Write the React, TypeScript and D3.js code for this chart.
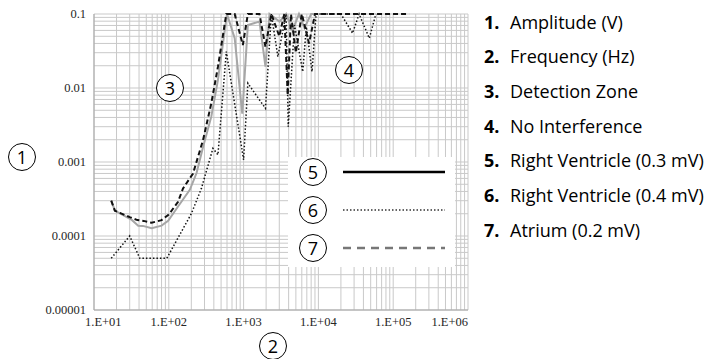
import React, { useEffect, useRef } from 'react';
import * as d3 from 'd3';

// Right Ventricle (0.3 mV) - grey solid in the plot
const rv03Freq = [17, 19, 32, 39, 45, 59, 80, 98, 133, 191, 235, 287, 370, 454, 600, 760, 960, 1140, 1630, 1960, 2220, 3020, 3700, 4500, 5500, 6500, 8000, 10000];
const rv03Amp = [3e-4, 2.2e-4, 1.65e-4, 1.38e-4, 1.37e-4, 1.27e-4, 1.38e-4, 1.6e-4, 2.5e-4, 4.2e-4, 7.1e-4, 1.6e-3, 4.1e-3, 0.0129, 0.1, 0.047, 0.0045, 0.071, 0.079, 0.0194, 0.1, 0.079, 0.1, 0.06, 0.1, 0.065, 0.1, 0.1];

// Right Ventricle (0.4 mV) - dotted
const rv04Freq = [17, 30, 41, 94, 200, 273, 389, 454, 587, 1000, 1140, 1960, 2350, 2870, 3700, 3950, 4790, 6170, 6900, 8220, 9300, 20000, 28650, 35000, 47900, 58700];
const rv04Amp = [5e-5, 1e-4, 5e-5, 5e-5, 2e-4, 4.4e-4, 1.53e-3, 1.25e-3, 0.031, 0.00107, 0.0116, 0.0053, 0.1, 0.0265, 0.1, 0.003, 0.071, 0.0166, 0.067, 0.0166, 0.1, 0.1, 0.055, 0.1, 0.047, 0.1];

// Atrium (0.2 mV) - black dashed in the plot
const atrFreq = [17, 19, 30, 38, 46, 59, 80, 100, 133, 155, 211, 287, 370, 454, 587, 760, 977, 1140, 1630, 1960, 2350, 3000, 3500, 3890, 4300, 5000, 6000, 7500, 9000, 12000, 30000, 163000];
const atrAmp = [3e-4, 2.2e-4, 1.8e-4, 1.64e-4, 1.6e-4, 1.51e-4, 1.64e-4, 1.95e-4, 2.9e-4, 4.4e-4, 7e-4, 1.98e-3, 6.2e-3, 0.0194, 0.1, 0.1, 0.038, 0.1, 0.1, 0.036, 0.1, 0.05, 0.1, 0.008, 0.1, 0.03, 0.1, 0.04, 0.1, 0.1, 0.1, 0.1];

const xTicks = [1e1, 1e2, 1e3, 1e4, 1e5, 1e6];
const xTickLabels = ['1.E+01', '1.E+02', '1.E+03', '1.E+04', '1.E+05', '1.E+06'];
const yTicks = [1e-5, 1e-4, 1e-3, 1e-2, 1e-1];
const yTickLabels = ['0.00001', '0.0001', '0.001', '0.01', '0.1'];

const keyNumbers = ['1.', '2.', '3.', '4.', '5.', '6.', '7.'];
const keyTexts = ['Amplitude (V)', 'Frequency (Hz)', 'Detection Zone', 'No Interference', 'Right Ventricle (0.3 mV)', 'Right Ventricle (0.4 mV)', 'Atrium (0.2 mV)'];

const legendMarks = ['5', '6', '7'];

function Chart() {
    const svgRef = useRef<SVGSVGElement>(null);

    useEffect(() => {
        const width = 718, height = 359;
        const svg = d3.select(svgRef.current).attr('width', width).attr('height', height);
        svg.selectAll('*').remove();

        const left = 94, right = 468, top = 14, bottom = 310;
        const x = d3.scaleLog().domain([1e1, 1e6]).range([left, right]);
        const y = d3.scaleLog().domain([1e-5, 1e-1]).range([bottom, top]);

        // Grid (log minor + major)
        const grid = svg.append('g');
        const xGrid: number[] = [];
        for (let e = 1; e < 6; e++) for (let k = 1; k < 10; k++) xGrid.push(k * Math.pow(10, e));
        xGrid.push(1e6);
        const yGrid: number[] = [];
        for (let e = -5; e < -1; e++) for (let k = 1; k < 10; k++) yGrid.push(k * Math.pow(10, e));
        yGrid.push(0.1);

        grid.selectAll('.vx').data(xGrid).enter().append('line')
            .attr('x1', d => x(d)).attr('x2', d => x(d))
            .attr('y1', top).attr('y2', bottom)
            .style('stroke', '#c9c9c9').style('stroke-width', 1);
        grid.selectAll('.hy').data(yGrid).enter().append('line')
            .attr('x1', left).attr('x2', right)
            .attr('y1', d => y(d)).attr('y2', d => y(d))
            .style('stroke', '#c9c9c9').style('stroke-width', 1);

        // Axis lines
        svg.append('line').attr('x1', left).attr('x2', left).attr('y1', top).attr('y2', bottom)
            .style('stroke', '#a6a6a6');
        svg.append('line').attr('x1', left).attr('x2', right).attr('y1', bottom).attr('y2', bottom)
            .style('stroke', '#a6a6a6');

        // Tick labels (first and last kept inside the plot width, as Excel does)
        const nX = xTicks.length;
        svg.selectAll('.xl').data(xTicks).enter().append('text')
            .attr('x', (d, i) => i === 0 ? x(d) - 9 : x(d))
            .attr('y', bottom + 16)
            .attr('text-anchor', (_, i) => i === 0 ? 'start' : i === nX - 1 ? 'end' : 'middle')
            .style('font-family', 'Liberation Serif').style('font-size', '12.5px').style('fill', '#262626')
            .text((_, i) => xTickLabels[i]);
        svg.selectAll('.yl').data(yTicks).enter().append('text')
            .attr('x', left - 8).attr('y', d => y(d) + 4)
            .attr('text-anchor', 'end')
            .style('font-family', 'Liberation Serif').style('font-size', '12.5px').style('fill', '#262626')
            .text((_, i) => yTickLabels[i]);

        // Series
        const line = d3.line<[number, number]>().x(d => x(d[0])).y(d => y(d[1]));
        const zip = (f: number[], a: number[]) => f.map((v, i) => [v, a[i]] as [number, number]);

        svg.append('path').attr('d', line(zip(rv03Freq, rv03Amp)))
            .style('fill', 'none').style('stroke', '#a6a6a6').style('stroke-width', 2);
        svg.append('path').attr('d', line(zip(rv04Freq, rv04Amp)))
            .style('fill', 'none').style('stroke', '#111').style('stroke-width', 1.5)
            .style('stroke-dasharray', '1.5,2');
        svg.append('path').attr('d', line(zip(atrFreq, atrAmp)))
            .style('fill', 'none').style('stroke', '#111').style('stroke-width', 2)
            .style('stroke-dasharray', '5,3');

        // Legend box
        const lg = svg.append('g');
        lg.append('rect').attr('x', 288).attr('y', 157).attr('width', 167).attr('height', 110)
            .style('fill', '#ffffff');
        const legendY = d3.scalePoint().domain(legendMarks).range([172, 248]);
        const styles = [
            { stroke: '#000', width: 2.5, dash: 'none' },
            { stroke: '#333', width: 1.5, dash: '1.5,2' },
            { stroke: '#777', width: 2.5, dash: '8,6' },
        ];
        legendMarks.forEach((m, i) => {
            const cy = legendY(m) as number;
            lg.append('circle').attr('cx', 313).attr('cy', cy).attr('r', 13.5)
                .style('fill', '#fff').style('stroke', '#000').style('stroke-width', 1);
            lg.append('text').attr('x', 313).attr('y', cy + 6.5).attr('text-anchor', 'middle')
                .style('font-family', 'Open Sans').style('font-size', '18px').style('fill', '#000').text(m);
            lg.append('line').attr('x1', 343).attr('x2', 445).attr('y1', cy).attr('y2', cy)
                .style('stroke', styles[i].stroke).style('stroke-width', styles[i].width)
                .style('stroke-dasharray', styles[i].dash);
        });

        // Numbered callouts
        const callouts = [
            { n: '1', cx: 22, cy: 157 },
            { n: '2', cx: 273, cy: 346 },
            { n: '3', cx: 170, cy: 88 },
            { n: '4', cx: 349, cy: 70 },
        ];
        callouts.forEach(c => {
            svg.append('circle').attr('cx', c.cx).attr('cy', c.cy).attr('r', 13.5)
                .style('fill', '#fff').style('stroke', '#000').style('stroke-width', 1);
            svg.append('text').attr('x', c.cx).attr('y', c.cy + 6.5).attr('text-anchor', 'middle')
                .style('font-family', 'Open Sans').style('font-size', '18px').style('fill', '#000').text(c.n);
        });

        // Key list on the right
        const keyY = d3.scalePoint().domain(keyNumbers).range([22, 230]);
        const key = svg.append('g');
        keyNumbers.forEach((n, i) => {
            const cy = keyY(n) as number;
            key.append('text').attr('x', 484).attr('y', cy + 6.5)
                .style('font-family', 'Open Sans').style('font-size', '18px').style('font-weight', 'bold')
                .style('fill', '#000').text(n);
            key.append('text').attr('x', 510).attr('y', cy + 6.5)
                .style('font-family', 'Open Sans').style('font-size', '18px')
                .style('fill', '#000').text(keyTexts[i]);
        });
    }, []);

    return <svg ref={svgRef} style={{ position: 'absolute', left: 0, top: 0 }}></svg>;
}

export default function App() {
    return <Chart />;
}
